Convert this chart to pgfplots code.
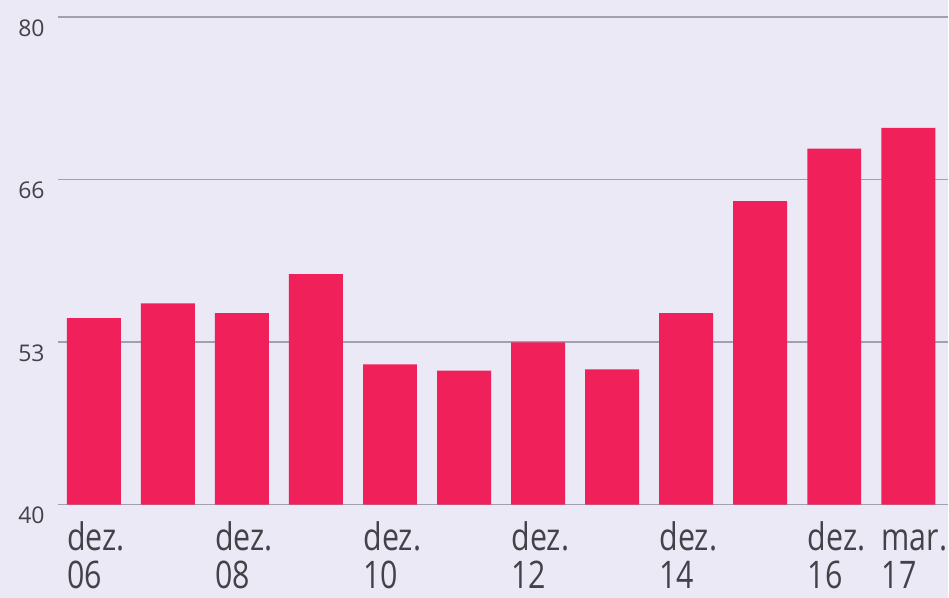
\documentclass[border=0pt]{standalone}
\usepackage{fontspec}
\setmainfont{Open Sans}
\newfontfamily\labfont[FakeStretch=0.8]{Open Sans}
\usepackage{pgfplots}
\pgfplotsset{compat=1.18}
\definecolor{bg}{RGB}{234,233,245}
\definecolor{barred}{RGB}{240,32,90}
\definecolor{gridc}{RGB}{160,160,176}
\definecolor{txt}{RGB}{66,66,72}
\newcommand{\lab}[2]{\rule{0pt}{14.5pt}#1\\#2}
\begin{document}
\begin{tikzpicture}
% canvas, 1px = 0.5pt
\fill[bg] (-29pt,-46.5pt) rectangle (445.5pt,252.5pt);
\begin{axis}[
  at={(0,0)}, anchor=south west,
  scale only axis, width=445.5pt, height=244pt,
  xmin=-0.485, xmax=11.54, ymin=40, ymax=80,
  ybar, bar width=27pt,
  axis line style={draw=none}, major tick length=0pt,
  ymajorgrids, grid style={gridc,line width=0.75pt},
  ytick={40,53.333,66.667,80}, yticklabels={40,53,66,80},
  y tick label style={anchor=north east, inner sep=0pt, xshift=-6.5pt, yshift=-1pt,
    font=\fontsize{11.5}{13}\selectfont, text=txt},
  xtick={0,2,4,6,8,10,11},
  xticklabels={{\lab{dez.}{06}},{\lab{dez.}{08}},{\lab{dez.}{10}},{\lab{dez.}{12}},
    {\lab{dez.}{14}},{\lab{dez.}{16}},{\lab{mar.}{17}}},
  x tick label style={align=left, anchor=north west, inner sep=0pt, xshift=-13.5pt, yshift=-8.5pt,
    font=\fontsize{19}{19}\selectfont\labfont, text=txt},
  /pgf/number format/assume math mode=true,
]
\addplot[fill=barred, draw=none] coordinates
  {(0,55.3)(1,56.5)(2,55.7)(3,58.9)(4,51.5)(5,51.0)(6,53.3)(7,51.1)(8,55.7)(9,64.9)(10,69.2)(11,70.9)};
\end{axis}
\end{tikzpicture}
\end{document}
